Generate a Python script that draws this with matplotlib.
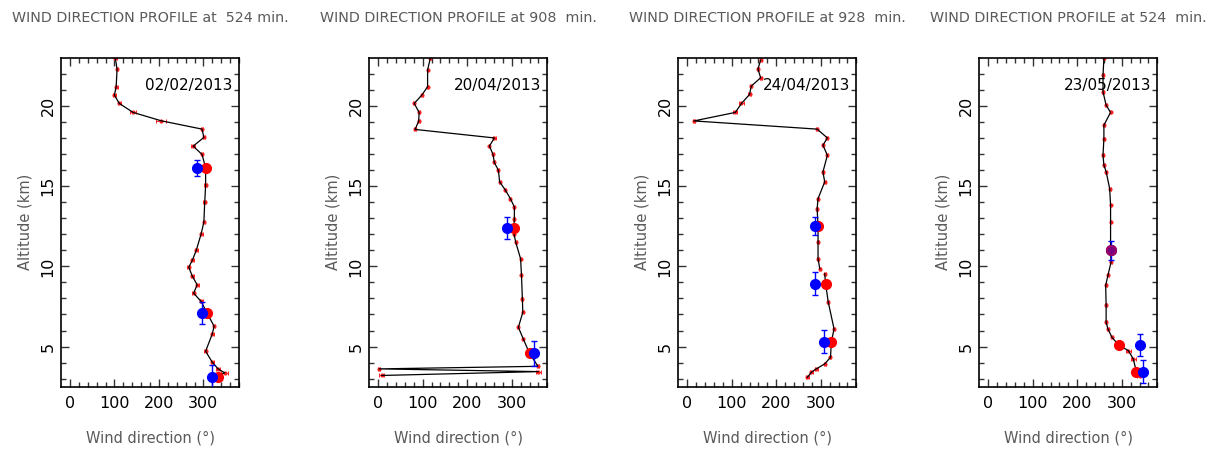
import matplotlib.pyplot as plt
import numpy as np

# ---- data ----
titles = ["WIND DIRECTION PROFILE at  524 min.",
          "WIND DIRECTION PROFILE at 908  min.",
          "WIND DIRECTION PROFILE at 928  min.",
          "WIND DIRECTION PROFILE at 524  min."]
dates = ["02/02/2013", "20/04/2013", "24/04/2013", "23/05/2013"]

# panel 1 - 02/02/2013
alt1 = [22.96, 22.3, 21.2, 20.67, 20.15, 19.59, 19.07, 18.55, 18.03, 17.49, 16.97, 16.13,
        15.05, 14.0, 12.76, 12.03, 11.0, 10.37, 9.95, 9.39, 8.85, 8.33, 7.81, 7.1,
        6.27, 5.79, 4.71, 4.02, 3.61, 3.36, 3.2]
dir1 = [102, 106, 104, 100, 111, 142, 205, 297, 301, 277, 297, 305,
        305, 303, 301, 295, 284, 275, 267, 275, 286, 278, 295, 308,
        324, 320, 305, 320, 333, 348, 330]
xerr1 = [3, 3, 3, 3, 3, 6, 12, 3, 3, 4, 3, 3,
         3, 3, 3, 3, 3, 3, 3, 3, 3, 3, 3, 3,
         3, 3, 3, 3, 5, 8, 8]
dot_alt1 = [16.13, 7.1, 3.08]
red1 = [305, 308, 333]
blue1 = [286, 296, 320]
berr1 = [0.5, 0.7, 0.8]

# panel 2 - 20/04/2013
alt2 = [22.96, 22.23, 21.19, 20.67, 20.15, 19.59, 19.06, 18.53, 18.0, 17.5, 16.97, 16.47,
        15.99, 15.26, 14.74, 14.22, 13.7, 12.97, 12.41, 12.03, 11.51, 10.47, 9.43, 7.98,
        7.14, 6.2, 5.48, 4.58, 3.77, 3.61, 3.44, 3.2]
dir2 = [117, 111, 111, 98, 81, 92, 91, 83, 261, 250, 258, 261,
        270, 273, 286, 297, 306, 306, 305, 305, 309, 320, 322, 324,
        325, 315, 326, 340, 359, 2, 360, 8]
xerr2 = [2, 2, 2, 2, 2, 2, 2, 2, 3, 2, 2, 2,
         2, 2, 2, 2, 2, 2, 2, 2, 2, 2, 2, 2,
         2, 2, 2, 2, 3, 3, 5, 6]
dot_alt2 = [12.41, 4.58]
red2 = [305, 340]
blue2 = [290, 351]
berr2 = [0.69, 0.78]

# panel 3 - 24/04/2013 (gap in the profile between 9.85 and 9.54 km)
alt3 = [22.85, 22.29, 21.75, 21.23, 20.71, 20.15, 19.59, 19.06, 18.55, 18.0, 17.55, 16.92,
        15.88, 15.26, 14.22, 13.6, 12.51, 11.51, 10.47, 9.85, np.nan, 9.54, 8.91, 7.77,
        6.1, 5.31, 4.33, 3.92, 3.61, 3.4, 3.08]
dir3 = [165, 159, 165, 144, 140, 122, 108, 15, 292, 315, 305, 315,
        305, 309, 294, 292, 294, 294, 294, 298, np.nan, 309, 311, 317,
        330, 324, 322, 309, 290, 279, 270]
xerr3 = [2, 2, 2, 2, 3, 6, 4, 2, 2, 2, 2, 2,
         2, 2, 2, 2, 2, 2, 2, 2, 0, 2, 2, 2,
         2, 2, 2, 2, 3, 3, 3]
dot_alt3 = [12.51, 8.91, 5.31]
red3 = [294, 311, 324]
blue3 = [288, 287, 307]
berr3 = [0.58, 0.71, 0.7]

# panel 4 - 23/05/2013
alt4 = [22.96, 21.9, 20.87, 20.04, 19.59, 18.8, 17.96, 16.92, 16.3, 15.9, 14.84, 13.8,
        12.76, 11.0, 10.26, 9.43, 8.81, 7.56, 6.52, 6.1, 5.58, 5.1, 4.75, 4.23,
        3.44, 3.19]
dir4 = [260, 258, 258, 265, 275, 260, 260, 258, 260, 265, 273, 275,
        275, 275, 276, 269, 264, 265, 265, 269, 278, 293, 315, 326,
        333, 341]
xerr4 = [2, 2, 2, 2, 2, 2, 2, 2, 2, 2, 2, 2,
         2, 2, 2, 2, 2, 2, 2, 2, 2, 3, 5, 6,
         6, 6]
dot_alt4 = [11.0, 5.1, 3.44]
red4 = [275, 293, 333]
blue4 = [275, 341, 348]
berr4 = [0.59, 0.71, 0.73]

panels = [
    (alt1, dir1, xerr1, dot_alt1, red1, blue1, berr1),
    (alt2, dir2, xerr2, dot_alt2, red2, blue2, berr2),
    (alt3, dir3, xerr3, dot_alt3, red3, blue3, berr3),
    (alt4, dir4, xerr4, dot_alt4, red4, blue4, berr4),
]

W, H = 1214, 449
fig = plt.figure(figsize=(W / 100, H / 100), dpi=100)

lefts = [61, 369.3, 678.3, 979.3]
gray = "#5a5a5a"

for i, (alt, d, xe, dalt, red, blue, berr) in enumerate(panels):
    ax = fig.add_axes([lefts[i] / W, (H - 386.7) / H, 178 / W, 329 / H])

    # small red points with horizontal error bars along the profile
    ax.errorbar(d, alt, xerr=xe, fmt="o", color="#ff2020", ms=2, elinewidth=0.7,
                capsize=1.5, capthick=0.7, zorder=2)
    ax.plot(d, alt, color="black", lw=0.9, zorder=3)

    # radar (blue) and profile (red) comparison points
    ax.plot(red, dalt, "o", color="#ff0000", ms=7, zorder=4)
    ax.errorbar(blue, dalt, yerr=berr, fmt="o", color="#0000ff", ms=7,
                elinewidth=1.0, capsize=2, capthick=1.0, zorder=5)
    # where the two coincide the reference shows a blended (purple) dot
    same = [k for k in range(len(red)) if red[k] == blue[k]]
    if same:
        ax.plot([red[k] for k in same], [dalt[k] for k in same], "o",
                color="#ff0000", ms=7, alpha=0.5, zorder=6)

    ax.set_xlim(-20, 380)
    ax.set_ylim(2.5, 23)
    ax.set_xticks([0, 100, 200, 300])
    ax.set_xticks(np.arange(0, 381, 20), minor=True)
    ax.set_yticks([5, 10, 15, 20])
    ax.set_yticks(np.arange(3, 23, 1), minor=True)
    ax.tick_params(which="both", direction="in", top=True, right=True,
                   width=1.0, color="#333333")
    ax.tick_params(which="major", length=6, labelsize=11.5)
    ax.tick_params(axis="x", which="major", pad=7)
    ax.tick_params(axis="y", which="major", pad=4)
    ax.tick_params(which="minor", length=3.5)
    for lab in ax.get_yticklabels():
        lab.set_rotation(90)
        lab.set_va("center")
    for sp in ax.spines.values():
        sp.set_linewidth(1.2)

    ax.text(0.965, 0.914, dates[i], transform=ax.transAxes, ha="right",
            va="center", fontsize=11, color="black", zorder=7)

    ax.set_xlabel("Wind direction (°)", fontsize=10.5, color=gray, labelpad=14)
    ax.set_ylabel("Altitude (km)", fontsize=10.5, color=gray, labelpad=6)

    cx = (lefts[i] + 89) / W
    fig.text(cx, 1 - 18 / H, titles[i], ha="center", va="center",
             fontsize=10.3, color=gray)

plt.savefig("out.png", dpi=100)
